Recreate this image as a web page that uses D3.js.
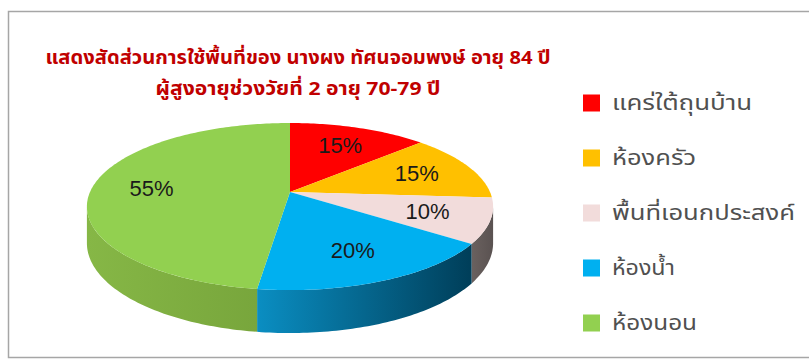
<!DOCTYPE html>
<html>
<head>
<meta charset="utf-8">
<script src="https://cdn.jsdelivr.net/npm/d3@7"></script>
<style>
  html, body { margin: 0; padding: 0; background: #ffffff; }
  svg { display: block; }
</style>
</head>
<body>
<svg id="chart" width="809" height="363"></svg>
<script>
// ---- data ----
const categories = ["แคร่ใต้ถุนบ้าน", "ห้องครัว", "พื้นที่เอนกประสงค์", "ห้องน้ำ", "ห้องนอน"];
const values = [15, 15, 10, 20, 55];
const valueLabels = ["15%", "15%", "10%", "20%", "55%"];
const titleLines = [
  "แสดงสัดส่วนการใช้พื้นที่ของ นางผง ทัศนจอมพงษ์ อายุ 84 ปี",
  "ผู้สูงอายุช่วงวัยที่ 2 อายุ 70-79 ปี"
];

// ---- styles ----
const topColors = ["#FF0000", "#FFC000", "#F2DCDB", "#00B0F0", "#92D050"];
const sideLeft  = ["#C00000", "#C79600", "#6A615F", "#0A8EC2", "#86B746"];
const sideRight = ["#8C0000", "#A07800", "#5A5251", "#003E59", "#78A63C"];

const svg = d3.select("#chart");
const W = 809, H = 363;

// chart frame
svg.append("rect")
  .attr("x", 8.5).attr("y", 11.5)
  .attr("width", W + 10).attr("height", 346)
  .attr("fill", "#ffffff")
  .attr("stroke", "#A6A6A6").attr("stroke-width", 1.5);

// title
const thaiFont = "Tahoma, 'Noto Sans Thai', 'Leelawadee UI', sans-serif";
const titleWidths = [505, 285];
svg.selectAll("text.title")
  .data(titleLines)
  .join("text")
  .attr("class", "title")
  .attr("x", 298)
  .attr("y", (d, i) => 64 + i * 31)
  .attr("text-anchor", "middle")
  .attr("font-family", thaiFont)
  .attr("font-weight", "bold")
  .attr("font-size", 18.5)
  .attr("fill", "#C00000")
  .attr("textLength", (d, i) => titleWidths[i])
  .attr("lengthAdjust", "spacingAndGlyphs")
  .text(d => d);

// ---- 3D pie projection ----
const cx = 290, cy = 192;      // projected centre of the disc
const kx = 200, ky = 81;       // horizontal / vertical radii
const persp = 0.174;           // perspective strength (near side larger)
const depth = 35.5;            // thickness of the disc

function proj(theta, r, d) {
  const X = r * Math.sin(theta);
  const Z = -r * Math.cos(theta);
  const f = 1 / (1 - persp * Z);
  return [cx + kx * X * f, cy + ky * Z * f + (d || 0) * f];
}

function arcPoints(a0, a1, r, d) {
  const n = Math.max(2, Math.ceil(Math.abs(a1 - a0) / (Math.PI / 180)));
  return d3.range(n + 1).map(i => proj(a0 + (a1 - a0) * i / n, r, d));
}

const pie = d3.pie().sort(null).value(d => d);
const arcs = pie(values);
const line = d3.line();

// visible side: front part of the rim, between the widest points
const visStart = Math.acos(-persp);
const visEnd = 2 * Math.PI - visStart;

const defs = svg.append("defs");
const sides = svg.append("g");
const tops = svg.append("g");

arcs.forEach((a, i) => {
  const s = Math.max(a.startAngle, visStart);
  const e = Math.min(a.endAngle, visEnd);
  if (e > s) {
    const topEdge = arcPoints(s, e, 1, 0);
    const botEdge = arcPoints(e, s, 1, depth);
    const xs = topEdge.map(p => p[0]);
    const g = defs.append("linearGradient")
      .attr("id", "side" + i)
      .attr("gradientUnits", "userSpaceOnUse")
      .attr("x1", d3.min(xs)).attr("x2", d3.max(xs))
      .attr("y1", 0).attr("y2", 0);
    g.append("stop").attr("offset", 0).attr("stop-color", sideLeft[i]);
    g.append("stop").attr("offset", 1).attr("stop-color", sideRight[i]);
    sides.append("path")
      .attr("d", line(topEdge.concat(botEdge)) + "Z")
      .attr("fill", "url(#side" + i + ")");
  }
  const face = [proj(0, 0, 0)].concat(arcPoints(a.startAngle, a.endAngle, 1, 0));
  tops.append("path")
    .attr("d", line(face) + "Z")
    .attr("fill", topColors[i]);
});

// percentage labels
const labelR = 0.7;
svg.append("g").selectAll("text")
  .data(arcs)
  .join("text")
  .attr("x", d => proj((d.startAngle + d.endAngle) / 2, labelR, 0)[0])
  .attr("y", d => proj((d.startAngle + d.endAngle) / 2, labelR, 0)[1])
  .attr("dy", "0.35em")
  .attr("text-anchor", "middle")
  .attr("font-family", "'Liberation Sans', Arial, sans-serif")
  .attr("font-size", 22)
  .attr("fill", "#1a1a1a")
  .text((d, i) => valueLabels[i]);

// legend
const legendY = d3.scalePoint().domain(categories).range([103, 323]);
const legendWidths = [140, 84, 183, 63, 85];
const legend = svg.append("g").selectAll("g")
  .data(categories)
  .join("g")
  .attr("transform", d => `translate(583,${legendY(d)})`);
legend.append("rect")
  .attr("x", 0).attr("y", -8.5)
  .attr("width", 17).attr("height", 17)
  .attr("fill", (d, i) => topColors[i]);
legend.append("text")
  .attr("x", 29).attr("y", 0)
  .attr("dy", "0.35em")
  .attr("font-family", thaiFont)
  .attr("font-size", 21)
  .attr("fill", "#505050")
  .attr("textLength", (d, i) => legendWidths[i])
  .attr("lengthAdjust", "spacingAndGlyphs")
  .text(d => d);
</script>
</body>
</html>
